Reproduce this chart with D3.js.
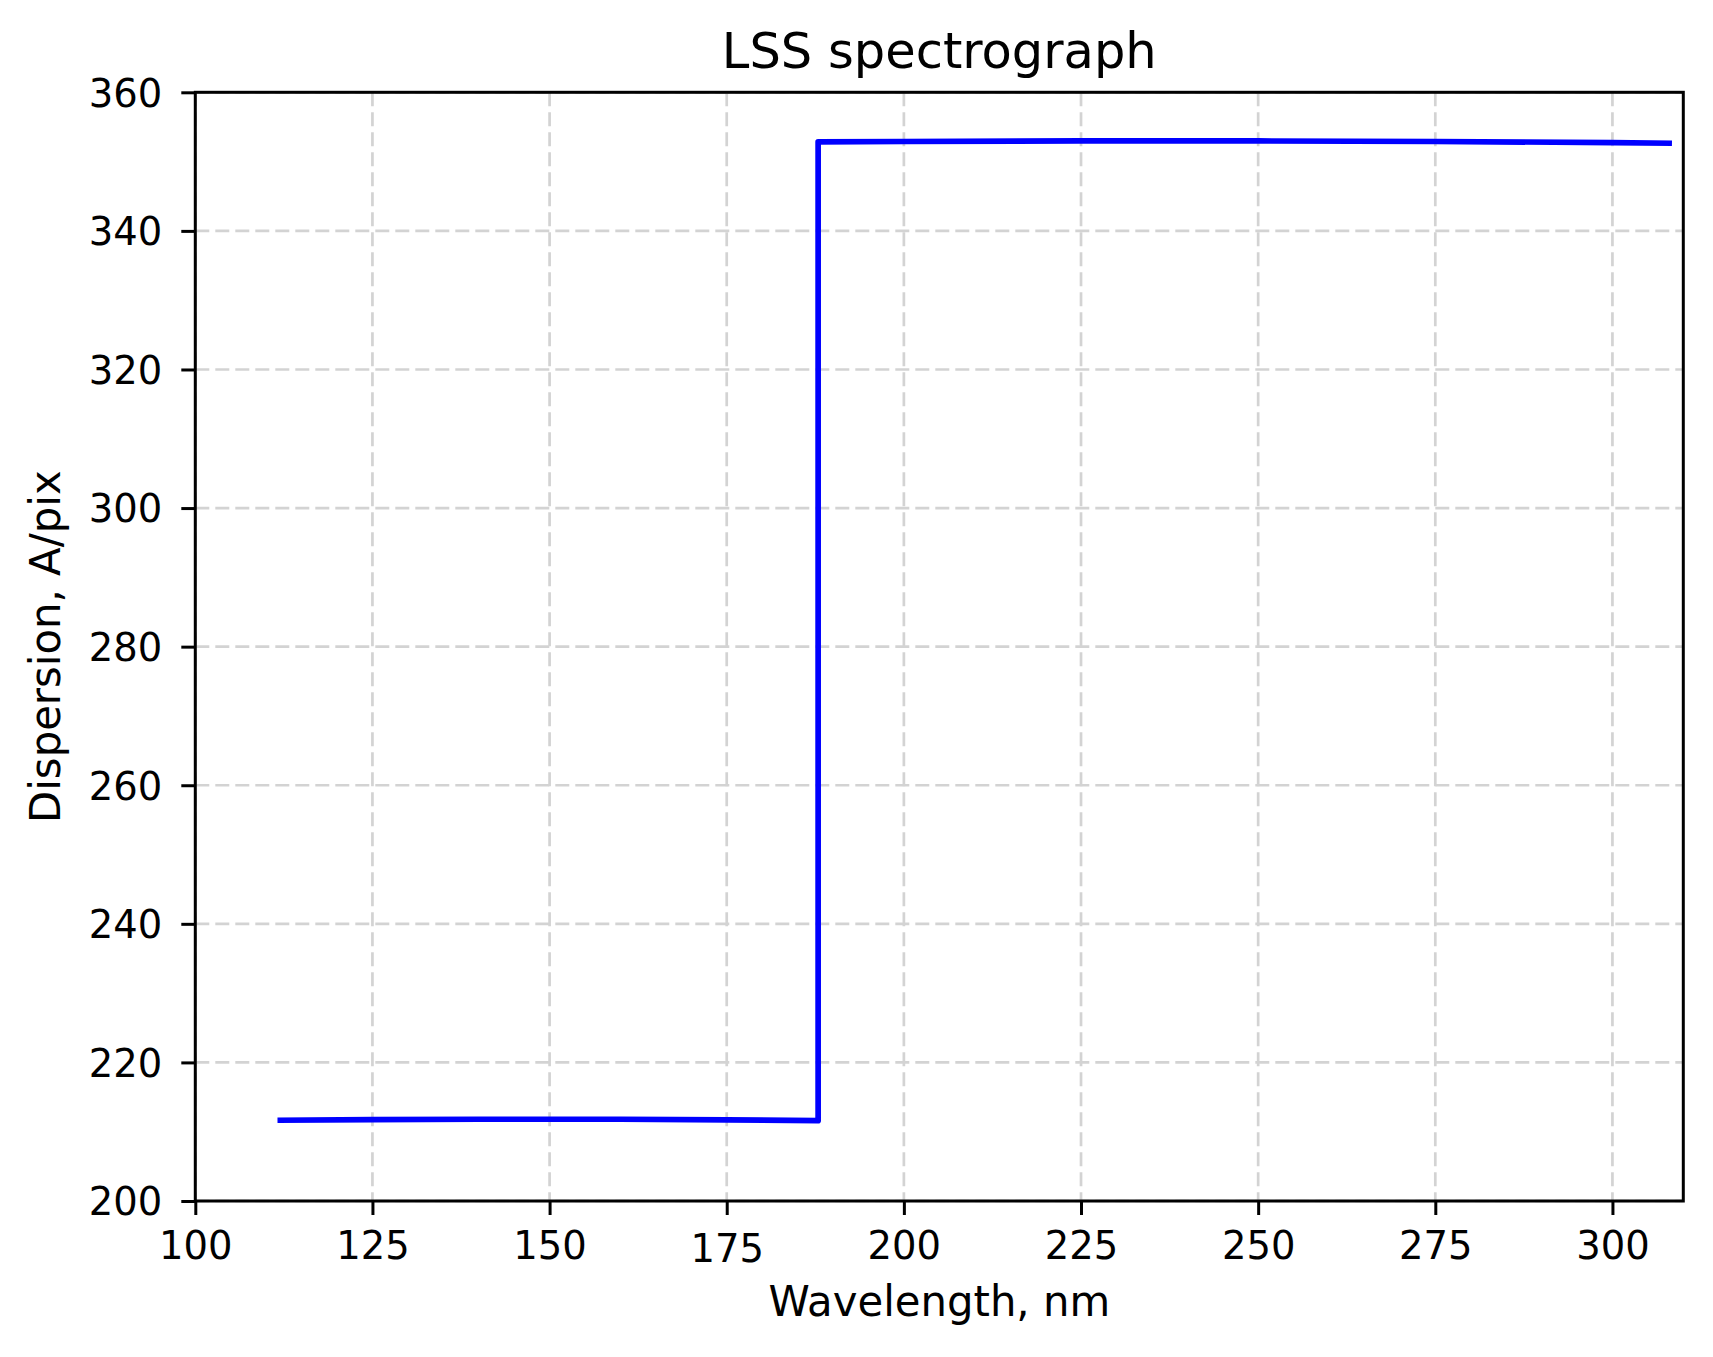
<!DOCTYPE html>
<html>
<head>
<meta charset="utf-8">
<script src="https://cdn.jsdelivr.net/npm/d3@7"></script>
<style>
  html, body { margin: 0; padding: 0; background: #fff; }
  svg { display: block; }
  text { font-family: "DejaVu Sans", sans-serif; fill: #000; }
</style>
</head>
<body>
<script>
// ---- data ----
const lowWavelength = [111.6, 125, 140, 160, 175, 187.9];
const lowDispersion = [211.65, 211.75, 211.8, 211.8, 211.72, 211.6];
const highWavelength = [187.9, 200, 225, 250, 275, 300, 308.4];
const highDispersion = [352.85, 352.9, 353.0, 352.98, 352.9, 352.75, 352.65];
const xTicks = [100, 125, 150, 175, 200, 225, 250, 275, 300];
const yTicks = [200, 220, 240, 260, 280, 300, 320, 340, 360];
const titleText = "LSS spectrograph";
const xLabelText = "Wavelength, nm";
const yLabelText = "Dispersion, A/pix";

const W = 1713, H = 1357;
const m = { left: 195.3, right: 1683.3, top: 92.3, bottom: 1201 };

const svg = d3.select("body").append("svg").attr("width", W).attr("height", H);

const x = d3.scaleLinear().domain([100, 310]).range([m.left, m.right]);
const y = d3.scaleLinear().domain([200, 360]).range([m.bottom, m.top]);

// grid
const grid = svg.append("g");
grid.selectAll(".gx").data(xTicks).join("line")
  .attr("x1", d => x(d)).attr("x2", d => x(d))
  .attr("y1", m.top).attr("y2", m.bottom)
  .attr("stroke", "#d3d3d3").attr("stroke-width", 2.7).attr("stroke-dasharray", "14,6");
grid.selectAll(".gy").data(yTicks).join("line")
  .attr("x1", m.left).attr("x2", m.right)
  .attr("y1", d => y(d)).attr("y2", d => y(d))
  .attr("stroke", "#d3d3d3").attr("stroke-width", 2.7).attr("stroke-dasharray", "14,6");

// line: combine both branches with a vertical jump
const pts = lowWavelength.map((w, i) => [w, lowDispersion[i]])
  .concat(highWavelength.map((w, i) => [w, highDispersion[i]]));
svg.append("path")
  .datum(pts)
  .attr("d", d3.line().x(d => x(d[0])).y(d => y(d[1])))
  .attr("fill", "none").attr("stroke", "#0000ff").attr("stroke-width", 5.7)
  .attr("stroke-linejoin", "round").attr("stroke-linecap", "butt");

// axes
const xAxis = d3.axisBottom(x).tickValues(xTicks).tickSize(14).tickPadding(16.5).tickSizeOuter(0);
const yAxis = d3.axisLeft(y).tickValues(yTicks).tickSize(14).tickPadding(19).tickSizeOuter(0);

const gx = svg.append("g").attr("transform", `translate(0,${m.bottom})`).call(xAxis);
const gy = svg.append("g").attr("transform", `translate(${m.left},0)`).call(yAxis);
[gx, gy].forEach(g => {
  g.select(".domain").remove();
  g.selectAll(".tick line").attr("stroke", "#000").attr("stroke-width", 3);
  g.selectAll(".tick text").attr("font-size", 38.5).attr("font-family", "DejaVu Sans").attr("fill", "#000");
});
gx.selectAll(".tick text").attr("dy", "0.71em");
// the 175 label sits a little lower in the original rendering
gx.selectAll(".tick text").filter(d => d === 175).attr("dy", "0.79em");
gy.selectAll(".tick text").attr("dy", "0.36em");

// frame
svg.append("rect")
  .attr("x", m.left).attr("y", m.top)
  .attr("width", m.right - m.left).attr("height", m.bottom - m.top)
  .attr("fill", "none").attr("stroke", "#000").attr("stroke-width", 3);

// title and labels
const cx = (m.left + m.right) / 2;
svg.append("text").attr("x", cx).attr("y", 68).attr("text-anchor", "middle")
  .attr("font-size", 49.5).text(titleText);
svg.append("text").attr("x", cx).attr("y", 1316).attr("text-anchor", "middle")
  .attr("font-size", 41.8).text(xLabelText);
svg.append("text")
  .attr("transform", `translate(60,${(m.top + m.bottom) / 2}) rotate(-90)`)
  .attr("text-anchor", "middle").attr("font-size", 41.8).text(yLabelText);
</script>
</body>
</html>
